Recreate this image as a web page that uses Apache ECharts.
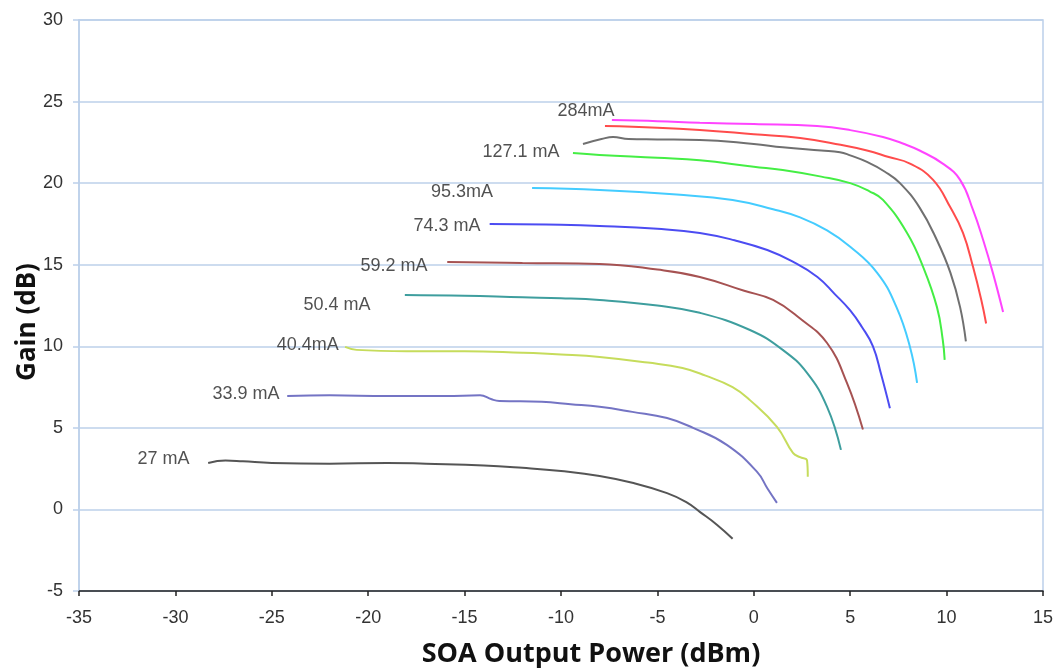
<!DOCTYPE html>
<html>
<head>
<meta charset="utf-8">
<script src="https://cdn.jsdelivr.net/npm/echarts@6/dist/echarts.min.js"></script>
<style>html,body{margin:0;padding:0;background:#fff;}#c{width:1064px;height:670px;}</style>
</head>
<body>
<div id="c"></div>
<script>
// ---- data (x = SOA output power dBm, y = gain dB) ----
const c27 = [[-28.3,2.85],[-27.4,3.0],[-26.5,2.95],[-25,2.85],[-22,2.8],[-19,2.85],[-17,2.8],[-14,2.7],[-12,2.55],[-10,2.35],[-8,2.05],[-6.3,1.63],[-4.5,1.0],[-3.5,0.45],[-2.8,-0.15],[-1.9,-0.95],[-1.1,-1.8]];
const c339 = [[-24.2,6.96],[-22,7.0],[-19,6.95],[-16,6.95],[-14.2,7.0],[-13.6,6.75],[-13.2,6.65],[-11,6.6],[-9.5,6.45],[-8,6.29],[-6.3,5.98],[-4.5,5.6],[-3.15,5.0],[-1.4,3.96],[0.17,2.3],[0.7,1.3],[1.2,0.4]];
const c404 = [[-21.2,9.96],[-20.6,9.78],[-18,9.7],[-15,9.7],[-12,9.6],[-10,9.5],[-8,9.35],[-5.5,9.0],[-3.7,8.67],[-2.5,8.2],[-1.1,7.5],[-0.2,6.7],[1.2,5.06],[2.03,3.47],[2.4,3.2],[2.76,3.0],[2.8,2.0]];
const c504 = [[-18.1,13.15],[-15,13.1],[-12,13.0],[-10,12.95],[-8,12.84],[-5,12.5],[-2.8,12.05],[-0.2,11.0],[1.5,9.78],[2.76,8.37],[3.8,6.29],[4.52,3.65]];
const c592 = [[-15.9,15.17],[-12,15.1],[-8,15.05],[-5,14.7],[-2.8,14.25],[-0.5,13.4],[1.0,12.84],[2.4,11.7],[3.8,10.2],[4.83,7.76],[5.66,4.9]];
const c743 = [[-13.7,17.5],[-10,17.45],[-8,17.38],[-5,17.2],[-2.8,16.95],[-1,16.5],[0.7,15.9],[2,15.2],[3.3,14.25],[4.2,13.2],[5.0,12.2],[5.6,11.2],[6.18,10.0],[6.6,8.3],[7.06,6.2]];
const c953 = [[-11.5,19.7],[-8,19.58],[-4,19.3],[-1.1,18.97],[1,18.4],[2.4,17.9],[3.8,17.1],[5.0,16.1],[6.4,14.5],[7.4,12.4],[8.1,9.96],[8.47,7.76]];
const c1271 = [[-9.38,21.85],[-8,21.73],[-5,21.55],[-2.8,21.4],[0,21.0],[1.5,20.8],[3.5,20.4],[5.0,20.0],[6.0,19.5],[6.7,18.97],[7.95,16.95],[8.78,14.87],[9.5,12.4],[9.8,10.4],[9.9,9.17]];
const cGray = [[-8.86,22.4],[-7.9,22.7],[-7.3,22.83],[-6.5,22.7],[-5,22.68],[-2.8,22.65],[0,22.4],[1.5,22.2],[3.5,22.0],[4.47,21.9],[5.0,21.7],[5.87,21.3],[6.8,20.7],[7.58,20.0],[8.6,18.5],[9.5,16.5],[10.2,14.5],[10.7,12.4],[11.0,10.3]];
const cRed = [[-7.72,23.5],[-5,23.4],[-2.8,23.26],[0,23.0],[2.4,22.77],[4.5,22.35],[5.87,22.0],[7,21.6],[8.1,21.2],[9.3,20.2],[10.2,18.5],[10.85,16.95],[11.37,14.87],[11.8,12.84],[12.05,11.4]];
const c284 = [[-7.36,23.87],[-5,23.8],[-2.8,23.7],[0,23.62],[3.28,23.5],[5,23.25],[6.7,22.83],[7.8,22.4],[8.6,22.0],[9.8,21.2],[10.7,20.2],[11.37,18.36],[11.9,16.5],[12.4,14.5],[12.93,12.1]];

const curveNames = ['27 mA','33.9 mA','40.4 mA','50.4 mA','59.2 mA','74.3 mA','95.3 mA','127.1 mA','gray','red','284 mA'];
const curveData = [c27,c339,c404,c504,c592,c743,c953,c1271,cGray,cRed,c284];
const curveColors = ['#555555','#7474c4','#c6dc5c','#3e9e9e','#a65252','#4c4cf2','#44ccff','#44ee44','#707070','#ff4c4c','#ff44ff'];

const labelTexts = ['284mA','127.1 mA','95.3mA','74.3 mA','59.2 mA','50.4 mA','40.4mA','33.9 mA','27 mA'];
const labelX = [-7.2,-10.05,-13.5,-14.15,-16.9,-19.85,-21.5,-24.57,-29.24];
const labelY = [24.4,21.9,19.46,17.4,14.93,12.54,10.1,7.08,3.1];

const xTicks = {min:-35, max:15, step:5};
const yTicks = {min:-5, max:30, step:5};

const gridBlue = '#bcd0ea';
const series = curveData.map((d,i)=>({
  name: curveNames[i], type:'line', data:d, showSymbol:false, symbol:'none',
  smooth:0.45, lineStyle:{color:curveColors[i], width:2}, z:3, animation:false
}));
series.push({
  type:'scatter', name:'labels', symbolSize:1, itemStyle:{color:'rgba(0,0,0,0)'}, animation:false,
  data: labelTexts.map((t,i)=>({value:[labelX[i],labelY[i]], name:t})),
  label:{show:true, position:'left', distance:0, formatter:p=>p.name,
    color:'#262626', fontSize:18, fontFamily:'Liberation Sans, Arial, sans-serif'},
  emphasis:{disabled:true},
  z:4
});

const chart = echarts.init(document.getElementById('c'), null, {renderer:'canvas'});
chart.setOption({
  backgroundColor:'#fff',
  animation:false,
  grid:{left:79, right:21, top:20, bottom:79, containLabel:false, outerBoundsMode:'none',
    show:true, borderColor:gridBlue, borderWidth:1.5},
  xAxis:{type:'value', min:xTicks.min, max:xTicks.max, interval:xTicks.step,
    name:'SOA Output Power (dBm)', nameLocation:'middle', nameGap:50, nameMoveOverlap:false,
    nameTextStyle:{fontSize:27, fontWeight:'bold', color:'#111', fontFamily:'Open Sans, sans-serif', padding:[0,0,0,60]},
    axisLine:{show:true, onZero:false, lineStyle:{color:'#222', width:1.5}},
    axisTick:{show:true, length:5, lineStyle:{color:'#222', width:1.5}},
    axisLabel:{margin:18, fontSize:18, color:'#333', fontFamily:'Liberation Sans, Arial, sans-serif'},
    splitLine:{show:false}},
  yAxis:{type:'value', min:yTicks.min, max:yTicks.max, interval:yTicks.step,
    name:'Gain (dB)', nameLocation:'middle', nameGap:38, nameMoveOverlap:false,
    nameTextStyle:{fontSize:26, fontWeight:'bold', color:'#111', fontFamily:'Open Sans, sans-serif', padding:[0,33,0,0]},
    axisLine:{show:true, onZero:false, lineStyle:{color:gridBlue, width:1.5}},
    axisTick:{show:true, length:6, lineStyle:{color:gridBlue, width:1.5}},
    axisLabel:{margin:16, fontSize:18, color:'#333', fontFamily:'Liberation Sans, Arial, sans-serif'},
    splitLine:{show:true, lineStyle:{color:gridBlue, width:1.5}}},
  series: series
});
</script>
</body>
</html>
